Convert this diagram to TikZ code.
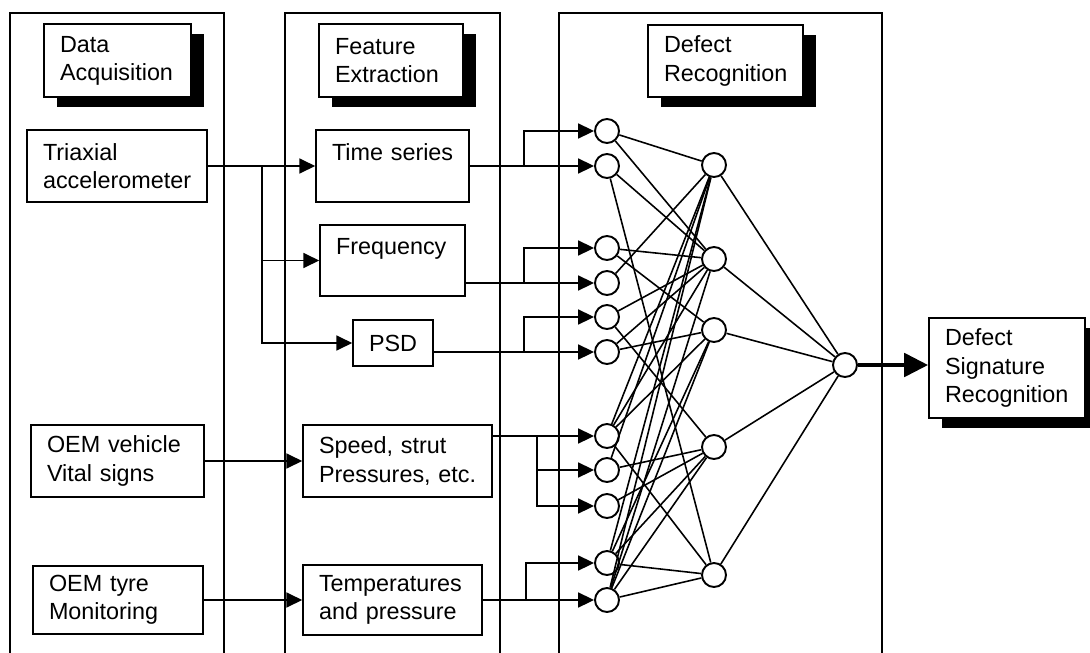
\documentclass[tikz,border=0pt]{standalone}
\usepackage{fontspec}
\setmainfont{Liberation Sans}
\usetikzlibrary{arrows.meta,shadows}

\tikzset{
  panel/.style={line width=1.3pt},
  block/.style 2 args={draw, fill=white, line width=0.9pt, align=left,
    inner xsep=0.32cm, inner ysep=0pt, text width=#1, minimum height=#2,
    font=\fontsize{13.3}{16}\selectfont},
  headbox/.style 2 args={block={#1}{#2},
    drop shadow={shadow xshift=0.26cm, shadow yshift=-0.2cm, fill=black, opacity=1}},
  neuron/.style={draw, circle, fill=white, line width=1.1pt, minimum size=0.48cm, inner sep=0pt},
  link/.style={line width=0.9pt},
  feed/.style={line width=0.9pt, -{Triangle[length=9pt,width=8.5pt]}},
}

\begin{document}
\begin{tikzpicture}[x=0.02cm,y=-0.02cm]
  \useasboundingbox (0,0) rectangle (1090,653);

  % three stages, open at the bottom
  \draw[panel] (10,653) |- (224,13) -- (224,653);
  \draw[panel] (285,653) |- (500,13) -- (500,653);
  \draw[panel] (559,653) |- (882,13) -- (882,653);

  % stage headings
  \node[headbox={2.30cm}{1.46cm}] (acq) at (117.5,60.5) {Data\\Acquisition};
  \node[headbox={2.24cm}{1.46cm}] (feat) at (391,60.5) {Feature\\Extraction};
  \node[headbox={2.46cm}{1.44cm}] (rec) at (725.5,61) {Defect\\Recognition};
  \node[headbox={2.48cm}{2.00cm}] (dsr) at (1007,368) {Defect\\Signature\\Recognition};

  % sources
  \node[block={2.96cm}{1.44cm}] (tri) at (117,166) {Triaxial\\accelerometer};
  \node[block={2.82cm}{1.44cm}] (veh) at (117.5,461) {\mbox{OEM vehicle}\\\mbox{Vital signs}};
  \node[block={2.76cm}{1.36cm}] (tyre) at (118,600) {\mbox{OEM tyre}\\Monitoring};

  % features
  \node[block={2.42cm}{1.44cm}] (ts) at (392.5,166) {\mbox{Time series}\\\mbox{}};
  \node[block={2.26cm}{1.42cm}] (fr) at (392.5,260.5) {Frequency\\\mbox{}};
  \node[block={0.96cm}{0.92cm}, align=center] (psd) at (393,343) {PSD};
  \node[block={3.14cm}{1.44cm}] (sp) at (397.5,461) {\mbox{Speed, strut}\\\mbox{Pressures, etc.}};
  \node[block={2.94cm}{1.40cm}] (tmp) at (392.5,600) {Temperatures\\\mbox{and pressure}};

  % network
  \foreach \y [count=\k] in {131,166,248,283,317,352,436,470,506,563,600}
    \node[neuron] (i\k) at (607,\y) {};
  \foreach \y [count=\k] in {165,259,330,447,575}
    \node[neuron] (h\k) at (714,\y) {};
  \node[neuron] (o) at (845,365) {};

  \foreach \h/\ins in {1/{1,4,7,8,10,11}, 2/{1,2,3,5,6,7,11}, 3/{3,6,7,10,11},
                       4/{5,8,9,10,11}, 5/{2,7,10,11}}
    \foreach \i in \ins
      \draw[link] (i\i) -- (h\h);
  \foreach \h in {1,...,5}
    \draw[link] (h\h) -- (o);

  % branch points
  \coordinate (ja) at (262,166);
  \coordinate (jb) at (524,166);
  \coordinate (jc) at (524,283);
  \coordinate (jd) at (524,352);
  \coordinate (je) at (537,436);
  \coordinate (jf) at (526,600);

  % acquisition to features
  \draw[feed] (tri) -- (ts);
  \draw[feed] (ja) |- (fr);
  \draw[feed] (ja) |- (psd);
  \draw[feed] (veh) -- (sp);
  \draw[feed] (tyre) -- (tmp);

  % features to inputs
  \draw[feed] (ts) -- (i2);
  \draw[feed] (jb) |- (i1);
  \draw[feed] (fr.east |- i4) -- (i4);
  \draw[feed] (jc) |- (i3);
  \draw[feed] (psd.east |- i6) -- (i6);
  \draw[feed] (jd) |- (i5);
  \draw[feed] (sp.east |- i7) -- (i7);
  \draw[feed] (je) |- (i8);
  \draw[feed] (je) |- (i9);
  \draw[feed] (tmp) -- (i11);
  \draw[feed] (jf) |- (i10);

  \draw[line width=2.8pt, -{Triangle[length=0.48cm,width=0.46cm]}] (o) -- (o -| dsr.west);
\end{tikzpicture}
\end{document}
